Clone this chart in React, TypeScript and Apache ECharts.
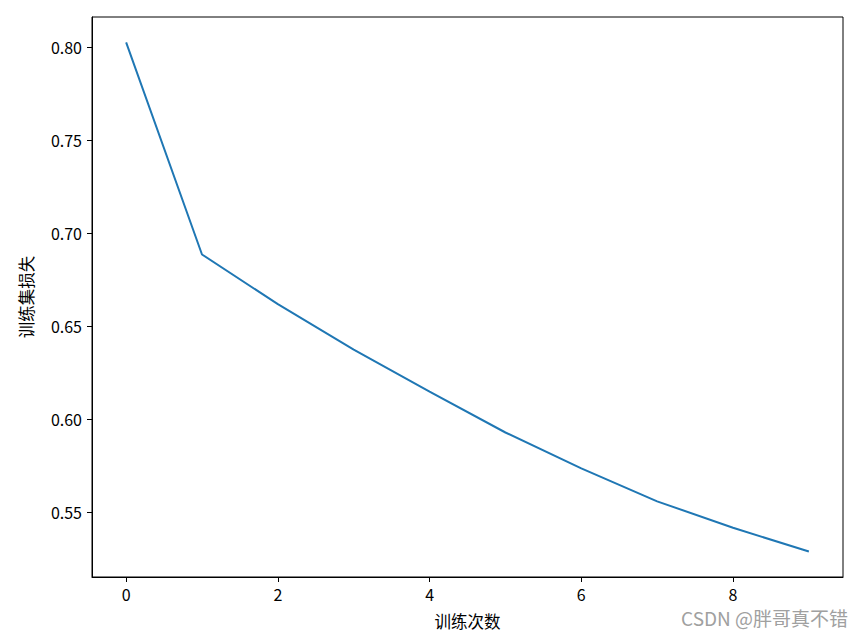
import React, { useEffect, useRef } from "react";
import * as echarts from "echarts";

const epochs = [0, 1, 2, 3, 4, 5, 6, 7, 8, 9];
const trainLoss = [0.8027, 0.6887, 0.662, 0.6375, 0.615, 0.593, 0.5737, 0.556, 0.5418, 0.529];
const xTicks = [0, 2, 4, 6, 8];
const yTicks = [0.55, 0.6, 0.65, 0.7, 0.75, 0.8];

const FONT = "'Noto Sans CJK SC', 'DejaVu Sans', sans-serif";

export default function App() {
  const ref = useRef<HTMLDivElement>(null);
  useEffect(() => {
    if (!ref.current) return;
    const chart = echarts.init(ref.current, null, { renderer: "svg" });
    const xmin = -0.45, xmax = 9.45;
    const lo = Math.min(...trainLoss), hi = Math.max(...trainLoss);
    const pad = (hi - lo) * 0.05;
    chart.setOption({
      animation: false,
      backgroundColor: "#ffffff",
      grid: { left: 92, top: 17, right: 22, bottom: 64, show: true, borderColor: "#000", borderWidth: 1, backgroundColor: "transparent" },
      xAxis: {
        type: "value",
        min: xmin,
        max: xmax,
        name: "训练次数",
        nameLocation: "middle",
        nameGap: 36,
        nameTextStyle: { fontFamily: FONT, fontSize: 16.5, color: "#000" },
        splitLine: { show: false },
        axisLine: { show: true, onZero: false, lineStyle: { color: "#000", width: 1 } },
        axisTick: { show: true, inside: false, length: 5, customValues: xTicks, lineStyle: { color: "#000" } },
        axisLabel: { customValues: xTicks, margin: 9, fontFamily: FONT, fontSize: 16, color: "#000", formatter: (v: number) => String(v) },
      },
      yAxis: {
        type: "value",
        min: lo - pad,
        max: hi + pad,
        name: "训练集损失",
        nameLocation: "middle",
        nameGap: 58,
        nameTextStyle: { fontFamily: FONT, fontSize: 16.5, color: "#000" },
        splitLine: { show: false },
        axisLine: { show: true, onZero: false, lineStyle: { color: "#000", width: 1 } },
        axisTick: { show: true, inside: false, length: 5, customValues: yTicks, lineStyle: { color: "#000" } },
        axisLabel: { customValues: yTicks, margin: 10, fontFamily: FONT, fontSize: 16, color: "#000", formatter: (v: number) => v.toFixed(2) },
      },
      series: [
        {
          type: "line",
          data: epochs.map((e, i) => [e, trainLoss[i]]),
          showSymbol: false,
          symbol: "none",
          lineStyle: { color: "#1f77b4", width: 2 },
        },
      ],
      graphic: [
        {
          type: "text",
          right: 17,
          top: 608,
          style: { text: "CSDN @胖哥真不错", fontFamily: FONT, fontSize: 19, fill: "#a0a0a0" },
        },
      ],
    });
    return () => chart.dispose();
  }, []);
  return <div ref={ref} style={{ position: "fixed", left: 0, top: 0, width: 865, height: 641 }} />;
}
